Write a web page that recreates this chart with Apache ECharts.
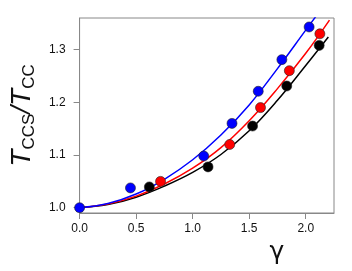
<!DOCTYPE html>
<html>
<head>
<meta charset="utf-8">
<script src="https://cdn.jsdelivr.net/npm/echarts@6/dist/echarts.min.js"></script>
<style>html,body{margin:0;padding:0;background:#fff;}#c{width:352px;height:271px;}</style>
</head>
<body>
<div id="c"></div>
<script>
// Tick values
var xTicks = [0, 0.5, 1.0, 1.5, 2.0];
var yTicks = [1.0, 1.1, 1.2, 1.3];

// Measured points
var blueX = [0, 0.45, 1.098, 1.348, 1.58, 1.789, 2.03];
var blueY = [1.000, 1.0376, 1.098, 1.160, 1.221, 1.281, 1.343];
var redX = [0.716, 1.328, 1.60, 1.855, 2.125];
var redY = [1.050, 1.120, 1.190, 1.260, 1.330];
var blackX = [0.617, 1.136, 1.53, 1.832, 2.119];
var blackY = [1.0395, 1.0775, 1.155, 1.231, 1.308];

// Fitted curves
var blueFitX = [0, 0.25, 0.5, 0.75, 1.0, 1.25, 1.5, 1.75, 2.0, 2.1];
var blueFitY = [1.000, 1.008, 1.026, 1.054, 1.091, 1.138, 1.195, 1.264, 1.337, 1.366];
var redFitX = [0, 0.25, 0.5, 0.75, 1.0, 1.25, 1.5, 1.75, 2.0, 2.21];
var redFitY = [1.000, 1.007, 1.022, 1.045, 1.075, 1.114, 1.165, 1.226, 1.293, 1.356];
var blackFitX = [0, 0.25, 0.5, 0.75, 1.0, 1.25, 1.5, 1.75, 2.0, 2.2];
var blackFitY = [1.000, 1.006, 1.020, 1.041, 1.067, 1.101, 1.146, 1.204, 1.270, 1.324];

function zip(a, b) { return a.map(function (v, i) { return [v, b[i]]; }); }

var chart = echarts.init(document.getElementById('c'), null, {renderer: 'canvas'});
var labelFont = {color: '#111', fontSize: 12, fontFamily: 'Liberation Sans, Arial, sans-serif'};

function lineSeries(x, y, color) {
  return {type: 'line', data: zip(x, y), smooth: 0.4, showSymbol: false,
    symbol: 'none', lineStyle: {color: color, width: 1.5}, clip: true, z: 2, silent: true};
}
function scatterSeries(x, y, color, z) {
  return {type: 'scatter', data: zip(x, y), symbol: 'circle', symbolSize: 10,
    itemStyle: {color: color, borderColor: '#222', borderWidth: 0.6, opacity: 1}, clip: false, z: z, silent: true};
}

chart.setOption({
  animation: false,
  backgroundColor: '#fff',
  grid: {left: 75, right: 18, top: 18, bottom: 58, show: true, borderColor: '#888', borderWidth: 1, backgroundColor: 'transparent'},
  xAxis: {
    type: 'value', min: 0, max: 2.25,
    name: 'γ', nameLocation: 'middle', nameGap: 24,
    nameTextStyle: {fontSize: 25, color: '#111', fontFamily: 'DejaVu Sans, sans-serif', padding: [0, 0, 0, 140]},
    axisLine: {show: true, lineStyle: {color: '#888', width: 1}},
    axisTick: {show: true, inside: false, length: 6, customValues: xTicks, lineStyle: {color: '#888'}},
    axisLabel: Object.assign({margin: 10, customValues: xTicks, formatter: function (v) { return v.toFixed(1); }}, labelFont),
    splitLine: {show: false}
  },
  yAxis: {
    type: 'value', min: 0.99, max: 1.36,
    name: '{t|T}{s|CCS}{t|/T}{s|CC}', nameLocation: 'middle', nameGap: 40, nameRotate: 90,
    nameTextStyle: {
      color: '#111', fontFamily: 'Liberation Sans, Arial, sans-serif',
      rich: {
        t: {fontSize: 28, fontStyle: 'italic', color: '#111', fontFamily: 'Liberation Sans, Arial, sans-serif', verticalAlign: 'bottom', padding: [0, 0, 2, 0]},
        s: {fontSize: 17, color: '#111', fontFamily: 'Liberation Sans, Arial, sans-serif', verticalAlign: 'bottom'}
      }
    },
    axisLine: {show: true, lineStyle: {color: '#888', width: 1}},
    axisTick: {show: true, inside: false, length: 6, customValues: yTicks, lineStyle: {color: '#888'}},
    axisLabel: Object.assign({margin: 14, customValues: yTicks, formatter: function (v) { return v.toFixed(1); }}, labelFont),
    splitLine: {show: false}
  },
  series: [
    lineSeries(blackFitX, blackFitY, '#000000'),
    lineSeries(redFitX, redFitY, '#ff0000'),
    lineSeries(blueFitX, blueFitY, '#0000ff'),
    scatterSeries(blackX, blackY, '#000000', 3),
    scatterSeries(redX, redY, '#ff0000', 4),
    scatterSeries(blueX, blueY, '#0000ff', 5)
  ]
});
</script>
</body>
</html>
